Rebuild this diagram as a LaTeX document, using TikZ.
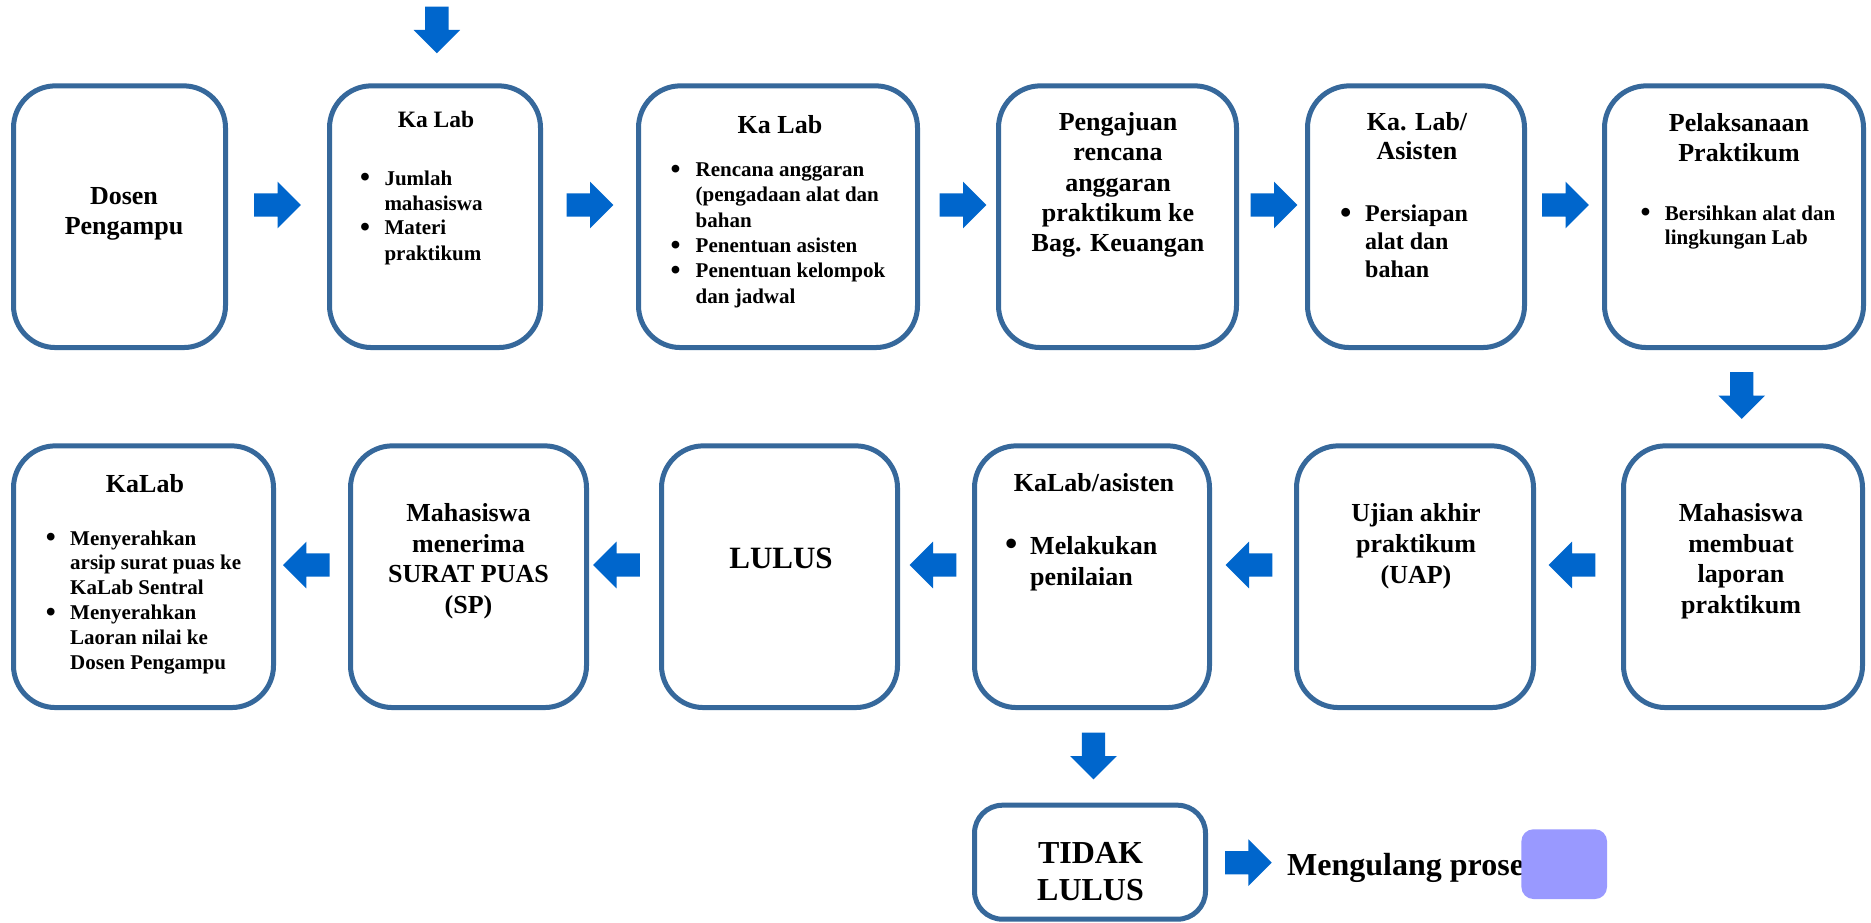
\documentclass[tikz,border=0pt]{standalone}
\usepackage{fontspec}
\usepackage{graphicx}
\setmainfont{Liberation Serif}
\usetikzlibrary{calc}

\definecolor{boxline}{RGB}{54,104,155}
\definecolor{flowblue}{RGB}{0,102,204}
\definecolor{notelilac}{RGB}{153,153,255}

% font size / leading, bold
\newcommand{\fsz}[2]{\fontsize{#1}{#2}\selectfont\bfseries}
% centred multi-line text, baseline on the first line
\newcommand{\ctext}[1]{\begin{tabular}[t]{@{}c@{}}#1\end{tabular}}
% bullet list: first column holds the bullet, second the text
\newcommand{\btext}[2]{\begin{tabular}[t]{@{}p{#1pt}@{}l@{}}#2\end{tabular}}
\newcommand{\bul}{\smash{\raisebox{-0.07em}{\scalebox{1.35}{\textbullet}}}}

\tikzset{
  stepbox/.style={draw=boxline, line width=5pt, rounded corners=42pt,
                  fill=white, inner sep=0pt, minimum height=261.7pt},
  smallbox/.style={draw=boxline, line width=5pt, rounded corners=28pt,
                  fill=white, inner sep=0pt},
  ctxt/.style={inner sep=0pt, anchor=base},
  ltxt/.style={inner sep=0pt, anchor=base west},
  blkarrow/.pic={
    \fill[flowblue] (-23.3,-11.7) -- (0,-11.7) -- (0,-23.3) -- (23.3,0)
                    -- (0,23.3) -- (0,11.7) -- (-23.3,11.7) -- cycle;
  }
}

\begin{document}
\begin{tikzpicture}[x=1pt, y=-1pt]
\fill[white] (0,0) rectangle (1871,923);
\useasboundingbox (0,0) rectangle (1871,923);

% ---------- first row of steps ----------
\node[stepbox, minimum width=212pt] (b1) at (119.5,216.7) {};
\node[stepbox, minimum width=211pt] (b2) at (435,216.7) {};
\node[stepbox, minimum width=279pt] (b3) at (778,216.7) {};
\node[stepbox, minimum width=238pt] (b4) at (1117.5,216.7) {};
\node[stepbox, minimum width=217pt] (b5) at (1416,216.7) {};
\node[stepbox, minimum width=259pt] (b6) at (1734,216.7) {};

\node[ctxt] (b1t) at (124,204) {\fsz{26}{31}\ctext{Dosen\\Pengampu}};

\node[ctxt] (b2t) at (436,128) {\fsz{23.5}{28}Ka Lab};
\node[ltxt] (b2l) at (360,185) {\fsz{21}{25}\btext{24.3}{%
  \bul & Jumlah\\ & mahasiswa\\ \bul & Materi\\ & praktikum}};

\node[ctxt] (b3t) at (780,134) {\fsz{26}{31}Ka Lab};
\node[ltxt] (b3l) at (670.3,176.7) {\fsz{21}{25.3}\btext{25.2}{%
  \bul & Rencana anggaran\\ & (pengadaan alat dan\\ & bahan\\
  \bul & Penentuan asisten\\ \bul & Penentuan kelompok\\ & dan jadwal}};

\node[ctxt] (b4t) at (1118,130.7) {\fsz{26}{30.2}\ctext{Pengajuan\\rencana\\anggaran\\praktikum ke\\Bag. Keuangan}};

\node[ctxt] (b5t) at (1417,130.7) {\fsz{26}{29.3}\ctext{Ka. Lab/\\Asisten}};
\node[ltxt] (b5l) at (1339.8,221.7) {\fsz{24}{27.8}\btext{25.2}{%
  \bul & Persiapan\\ & alat dan\\ & bahan}};

\node[ctxt] (b6t) at (1739,131.7) {\fsz{26}{30}\ctext{Pelaksanaan\\Praktikum}};
\node[ltxt] (b6l) at (1640.3,220) {\fsz{21}{24.3}\btext{24.4}{%
  \bul & Bersihkan alat dan\\ & lingkungan Lab}};

% ---------- second row of steps ----------
\node[stepbox, minimum width=260pt] (c1) at (143.5,576.7) {};
\node[stepbox, minimum width=236pt] (c2) at (468.5,576.7) {};
\node[stepbox, minimum width=236pt] (c3) at (779.5,576.7) {};
\node[stepbox, minimum width=235pt] (c4) at (1092,576.7) {};
\node[stepbox, minimum width=237pt] (c5) at (1415,576.7) {};
\node[stepbox, minimum width=239pt] (c6) at (1743,576.7) {};

\node[ctxt] (c1t) at (145,492.7) {\fsz{26}{31}KaLab};
\node[ltxt] (c1l) at (45.7,545) {\fsz{21}{24.9}\btext{24.3}{%
  \bul & Menyerahkan\\ & arsip surat puas ke\\ & KaLab Sentral\\
  \bul & Menyerahkan\\ & Laoran nilai ke\\ & Dosen Pengampu}};

\node[ctxt] (c2t) at (468.5,521.7) {\fsz{26}{30.5}\ctext{Mahasiswa\\menerima\\SURAT PUAS\\(SP)}};

\node[ctxt] (c3t) at (781,568.3) {\fsz{31}{36}LULUS};

\node[ctxt] (c4t) at (1094,491.7) {\fsz{26}{31}KaLab/asisten};
\node[ltxt] (c4l) at (1005,554) {\fsz{26}{31}\btext{25}{%
  \bul & Melakukan\\ & penilaian}};

\node[ctxt] (c5t) at (1416,521.7) {\fsz{26}{31}\ctext{Ujian akhir\\praktikum\\(UAP)}};

\node[ctxt] (c6t) at (1741,521.7) {\fsz{26}{30.5}\ctext{Mahasiswa\\membuat\\laporan\\praktikum}};

% ---------- failed branch ----------
\node[smallbox, minimum width=231pt, minimum height=114pt] (d1) at (1090,862.2) {};
\node[ctxt] (d1t) at (1090.5,863.3) {\fsz{32}{36.7}\ctext{TIDAK\\LULUS}};
\node[ltxt] (d2) at (1287,875) {\fsz{32}{38}Mengulang prose};
\fill[notelilac, rounded corners=12pt] (1521.4,829.3) rectangle (1607,899);

% ---------- block arrows ----------
\pic[rotate=-90] at (436.8,30) {blkarrow};
\pic at (277.5,205) {blkarrow};
\pic at (590,205) {blkarrow};
\pic at (963,205) {blkarrow};
\pic at (1274,205) {blkarrow};
\pic at (1565.5,205) {blkarrow};
\pic[rotate=-90] at (1741.7,395.5) {blkarrow};
\pic[rotate=180] at (1572,565) {blkarrow};
\pic[rotate=180] at (1249,565) {blkarrow};
\pic[rotate=180] at (933,565) {blkarrow};
\pic[rotate=180] at (616.5,565) {blkarrow};
\pic[rotate=180] at (306.3,565) {blkarrow};
\pic[rotate=-90] at (1093.5,756) {blkarrow};
\pic at (1248.4,862.7) {blkarrow};
\end{tikzpicture}
\end{document}
